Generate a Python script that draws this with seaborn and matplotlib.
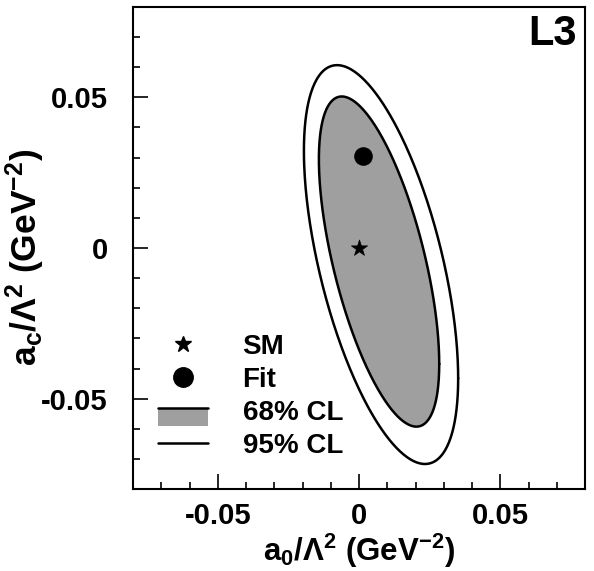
import numpy as np
import pandas as pd
import matplotlib
matplotlib.use("Agg")
import matplotlib.pyplot as plt
import seaborn as sns
from matplotlib.lines import Line2D
from matplotlib.patches import Rectangle
from matplotlib.legend_handler import HandlerBase
from matplotlib.ticker import MultipleLocator, FixedLocator, FixedFormatter

# ---- data ----
contour_levels = ["68% CL", "95% CL"]
center_a0 = [0.0071, 0.0078]
center_ac = [-0.0045, -0.0055]
half_width_a0 = [0.0213, 0.0273]
half_width_ac = [0.0548, 0.0662]
correlation = [-0.62, -0.57]

point_names = ["SM", "Fit"]
point_a0 = [0.0, 0.0014]
point_ac = [0.0, 0.0307]

x_ticks = [-0.05, 0.0, 0.05]
x_ticklabels = ["-0.05", "0", "0.05"]
y_ticks = [-0.05, 0.0, 0.05]
y_ticklabels = ["-0.05", "0", "0.05"]

GRAY = "#9f9f9f"

sns.set_theme(style="ticks")
plt.rcParams["font.family"] = ["Liberation Sans", "DejaVu Sans"]
plt.rcParams["font.weight"] = "bold"
plt.rcParams["text.color"] = "black"
plt.rcParams["axes.labelcolor"] = "black"
plt.rcParams["xtick.color"] = "black"
plt.rcParams["ytick.color"] = "black"
plt.rcParams["xtick.labelcolor"] = "black"
plt.rcParams["ytick.labelcolor"] = "black"
plt.rcParams["mathtext.fontset"] = "custom"
plt.rcParams["mathtext.rm"] = "Liberation Sans:bold"
plt.rcParams["mathtext.it"] = "Liberation Sans:bold"
plt.rcParams["mathtext.bf"] = "Liberation Sans:bold"
plt.rcParams["mathtext.default"] = "rm"

# build contour table
t = np.linspace(0, 2 * np.pi, 400)
rows = []
for lvl, cx, cy, sx, sy, r in zip(contour_levels, center_a0, center_ac,
                                  half_width_a0, half_width_ac, correlation):
    xs = cx + sx * np.cos(t)
    ys = cy + sy * (r * np.cos(t) + np.sqrt(1 - r * r) * np.sin(t))
    rows.append(pd.DataFrame({"a0": xs, "ac": ys, "level": lvl, "k": np.arange(len(t))}))
contours = pd.concat(rows, ignore_index=True)
points = pd.DataFrame({"a0": point_a0, "ac": point_ac, "name": point_names})

fig = plt.figure(figsize=(5.94, 5.71), dpi=100)
ax = fig.add_axes([133 / 594, 1 - 489 / 571, 452 / 594, 482 / 571])

inner = contours[contours["level"] == "68% CL"]
ax.fill(inner["a0"], inner["ac"], color=GRAY, zorder=1, lw=0)
sns.lineplot(data=contours, x="a0", y="ac", units="level", estimator=None,
             sort=False, color="black", lw=1.8, ax=ax, zorder=2, legend=False)

sm = points[points["name"] == "SM"]
fit = points[points["name"] == "Fit"]
sns.scatterplot(data=sm, x="a0", y="ac", marker="*", s=150, color="black",
                edgecolor="black", linewidth=0.5, ax=ax, zorder=3, legend=False)
sns.scatterplot(data=fit, x="a0", y="ac", marker="o", s=180, color="black",
                edgecolor="black", linewidth=0, ax=ax, zorder=3, legend=False)

ax.set_xlim(-0.08, 0.08)
ax.set_ylim(-0.08, 0.08)
ax.xaxis.set_major_locator(FixedLocator(x_ticks))
ax.xaxis.set_major_formatter(FixedFormatter(x_ticklabels))
ax.yaxis.set_major_locator(FixedLocator(y_ticks))
ax.yaxis.set_major_formatter(FixedFormatter(y_ticklabels))
ax.xaxis.set_minor_locator(MultipleLocator(0.01))
ax.yaxis.set_minor_locator(MultipleLocator(0.01))
ax.tick_params(which="both", direction="in", top=False, right=False,
               width=1.2, color="black", labelcolor="black")
ax.tick_params(which="major", length=11, labelsize=21)
ax.tick_params(which="minor", length=5)
ax.tick_params(axis="y", which="major", pad=18)
ax.tick_params(axis="x", which="major", pad=9)
for lab in ax.get_xticklabels() + ax.get_yticklabels():
    lab.set_fontweight("bold")
for s in ax.spines.values():
    s.set_linewidth(1.5)
    s.set_color("black")

ax.set_xlabel(r"a$_0$/Λ$^2$ (GeV$^{-2}$)", fontsize=22.5, fontweight="bold",
              color="black")
ax.set_ylabel(r"a$_\mathrm{c}$/Λ$^2$ (GeV$^{-2}$)", fontsize=25.5, fontweight="bold",
              color="black")
ax.xaxis.set_label_coords(0.5, -0.088)
ax.yaxis.set_label_coords(-0.19, 0.48)

ax.text(0.982, 0.985, "L3", transform=ax.transAxes, ha="right", va="top",
        fontsize=30, fontweight="bold", color="black")


class BandHandler(HandlerBase):
    def create_artists(self, legend, orig_handle, xdescent, ydescent,
                       width, height, fontsize, trans):
        x0, y0 = -xdescent, -ydescent
        rect = Rectangle((x0, y0 - 0.3 * height), width, height * 0.86,
                         facecolor=GRAY, edgecolor="none", transform=trans)
        line = Line2D([x0, x0 + width], [y0 + height * 0.62, y0 + height * 0.62],
                      color="black", lw=1.8, transform=trans)
        return [rect, line]


class Band:
    pass


handles = [
    Line2D([], [], marker="*", ls="none", color="black", markersize=12),
    Line2D([], [], marker="o", ls="none", color="black", markersize=14),
    Band(),
    Line2D([], [], color="black", lw=1.8),
]
labels = ["SM", "Fit", contour_levels[0], contour_levels[1]]
leg = ax.legend(handles, labels, handler_map={Band: BandHandler()},
                loc="upper left", bbox_to_anchor=(0.055, 0.322), frameon=False,
                fontsize=20, handlelength=1.8, handletextpad=1.25,
                labelspacing=0.25, borderpad=0, borderaxespad=0)
for txt in leg.get_texts():
    txt.set_fontweight("bold")
    txt.set_color("black")

fig.savefig("out.png", dpi=100)
